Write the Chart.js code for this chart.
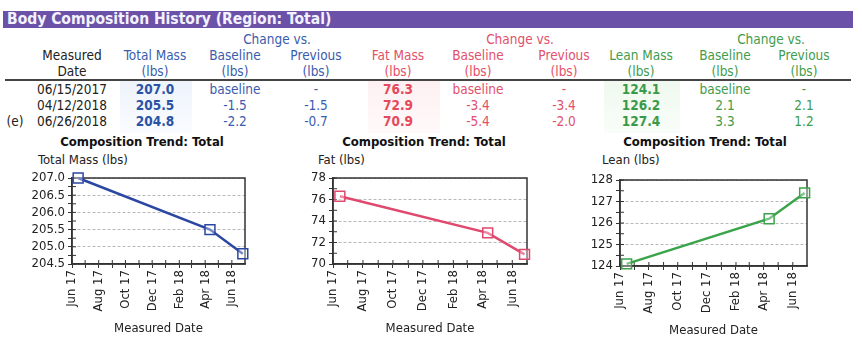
<!DOCTYPE html>
<html>
<head>
<meta charset="utf-8">
<script src="https://cdn.jsdelivr.net/npm/chart.js@4.4.1/dist/chart.umd.min.js"></script>
<style>
  body { margin: 0; background: #fff; width: 862px; height: 364px; position: relative; overflow: hidden;
         font-family: 'DejaVu Sans Condensed', 'DejaVu Sans', sans-serif; color: #222; }
  .bar { position: absolute; left: 3px; top: 11px; width: 850px; height: 17px; background: #6b52a8; }
  .bar span { position: absolute; left: 4px; top: -1px; color: #f4f2ff; font-weight: bold; font-size: 15.5px; line-height: 18px; }
  .rule { position: absolute; left: 5px; top: 79px; width: 846px; height: 2px; background: #444; }
  .cell { position: absolute; transform: translateX(-50%); white-space: nowrap; font-size: 13.5px; line-height: 16px; }
  .shade { position: absolute; top: 81px; height: 52px; }
  .ctitle { position: absolute; top: 133px; transform: translateX(-50%); white-space: nowrap;
            font-size: 13px; font-weight: bold; line-height: 18px; color: #111; }
  .ytitle { position: absolute; top: 151px; white-space: nowrap; font-size: 13px; line-height: 18px; color: #222; }
  canvas { position: absolute; }
</style>
</head>
<body>
<div class="shade" style="left:120px;width:72px;background:linear-gradient(#eef3fc,#fafcff)"></div>
<div class="shade" style="left:368px;width:72px;background:linear-gradient(#fdf0f2,#fff9fa)"></div>
<div class="shade" style="left:604px;width:76px;background:linear-gradient(#eff9ef,#f9fdf9)"></div>
<div class="bar"><span>Body Composition History (Region: Total)</span></div>
<div class="rule"></div>
<div id="table"></div>

<div class="ctitle" style="left:142px">Composition Trend: Total</div>
<div class="ytitle" style="left:38px">Total Mass (lbs)</div>
<div class="ctitle" style="left:424px">Composition Trend: Total</div>
<div class="ytitle" style="left:318px">Fat (lbs)</div>
<div class="ctitle" style="left:705px">Composition Trend: Total</div>
<div class="ytitle" style="left:602px">Lean (lbs)</div>

<canvas id="totalChart" width="237" height="180" style="left:20px;top:165px"></canvas>
<canvas id="fatChart" width="239" height="180" style="left:300px;top:165px"></canvas>
<canvas id="leanChart" width="234" height="180" style="left:585px;top:167px"></canvas>
<script>
const measuredDates = ['06/15/2017', '04/12/2018', '06/26/2018'];
const totalMass = [207.0, 205.5, 204.8];
const fatMass = [76.3, 72.9, 70.9];
const leanMass = [124.1, 126.2, 127.4];
const totalVsBaseline = ['baseline', '-1.5', '-2.2'];
const totalVsPrevious = ['-', '-1.5', '-0.7'];
const fatVsBaseline = ['baseline', '-3.4', '-5.4'];
const fatVsPrevious = ['-', '-3.4', '-2.0'];
const leanVsBaseline = ['baseline', '2.1', '3.3'];
const leanVsPrevious = ['-', '2.1', '1.2'];
const rowFlags = ['', '', '(e)'];
const tickLabels = ['Jun 17', '', 'Aug 17', '', 'Oct 17', '', 'Dec 17', '', 'Feb 18', '', 'Apr 18', '', 'Jun 18'];

const BLUE = '#3a5cae', RED = '#e2506a', GREEN = '#3f9c4c';
const FONT = "'DejaVu Sans Condensed', 'DejaVu Sans', sans-serif";

// table
const table = document.getElementById('table');
function cell(text, x, y, color, bold) {
  const d = document.createElement('div');
  d.className = 'cell';
  d.textContent = text;
  d.style.left = x + 'px';
  d.style.top = (y - 8) + 'px';
  d.style.color = color;
  if (bold) d.style.fontWeight = 'bold';
  table.appendChild(d);
}

const cols = { date: 72, total: 155, tBase: 235, tPrev: 316, fat: 398, fBase: 478, fPrev: 564, lean: 641, lBase: 725, lPrev: 804 };

cell('Change vs.', 277, 39, BLUE);
cell('Change vs.', 520, 39, RED);
cell('Change vs.', 771, 39, GREEN);
[['Measured', 'Date', cols.date, '#222'], ['Total Mass', '(lbs)', cols.total, BLUE],
 ['Baseline', '(lbs)', cols.tBase, BLUE], ['Previous', '(lbs)', cols.tPrev, BLUE],
 ['Fat Mass', '(lbs)', cols.fat, RED], ['Baseline', '(lbs)', cols.fBase, RED], ['Previous', '(lbs)', cols.fPrev, RED],
 ['Lean Mass', '(lbs)', cols.lean, GREEN], ['Baseline', '(lbs)', cols.lBase, GREEN], ['Previous', '(lbs)', cols.lPrev, GREEN]]
  .forEach(([a, b, x, c]) => { cell(a, x, 55, c); cell(b, x, 71, c); });

measuredDates.forEach((d, i) => {
  const y = 89 + i * 16;
  if (rowFlags[i]) cell(rowFlags[i], 15, y, '#222');
  cell(d, cols.date, y, '#222');
  cell(totalMass[i].toFixed(1), cols.total, y, '#2a53a6', true);
  cell(totalVsBaseline[i], cols.tBase, y, BLUE);
  cell(totalVsPrevious[i], cols.tPrev, y, BLUE);
  cell(fatMass[i].toFixed(1), cols.fat, y, '#e44a5c', true);
  cell(fatVsBaseline[i], cols.fBase, y, RED);
  cell(fatVsPrevious[i], cols.fPrev, y, RED);
  cell(leanMass[i].toFixed(1), cols.lean, y, '#3a9a48', true);
  cell(leanVsBaseline[i], cols.lBase, y, GREEN);
  cell(leanVsPrevious[i], cols.lPrev, y, GREEN);
});

// x axis in days since Jun 1 2017
const origin = Date.UTC(2017, 5, 1);
const toDays = s => (Date.UTC(+s.slice(6, 10), +s.slice(0, 2) - 1, +s.slice(3, 5)) - origin) / 864e5;
const dayOffsets = measuredDates.map(toDays);
const axisEnd = (Date.UTC(2018, 6, 1) - origin) / 864e5;
const tickDays = tickLabels.map((_, i) => (Date.UTC(2017, 5 + i, 1) - origin) / 864e5);

const frame = {
  id: 'frame',
  beforeDatasetsDraw(chart) {
    const { ctx, chartArea: a, scales } = chart;
    ctx.save();
    ctx.strokeStyle = '#333';
    ctx.lineWidth = 1;
    ctx.beginPath();
    scales.y.ticks.forEach(t => {
      const y = scales.y.getPixelForValue(t.value);
      ctx.moveTo(a.left, y); ctx.lineTo(a.left + 4, y);
    });
    scales.x.ticks.forEach(t => {
      const x = scales.x.getPixelForValue(t.value);
      ctx.moveTo(x, a.bottom); ctx.lineTo(x, a.bottom - 4);
    });
    ctx.stroke();
    ctx.lineWidth = 1.5;
    ctx.strokeRect(a.left, a.top, a.right - a.left, a.bottom - a.top);
    ctx.restore();
  }
};

function trendChart(id, values, color, yMin, yMax, minor, major, digits, axisWidth) {
  const isMajor = v => Math.abs(v / major - Math.round(v / major)) < 1e-6;
  return new Chart(document.getElementById(id), {
    type: 'line',
    data: {
      datasets: [{
        data: dayOffsets.map((d, i) => ({ x: d, y: values[i] })),
        borderColor: color,
        borderWidth: 2.5,
        tension: 0,
        pointStyle: 'rect',
        pointRadius: 7,
        pointBorderWidth: 1.5,
        pointBorderColor: color,
        pointBackgroundColor: 'rgba(255,255,255,0.35)',
        clip: false
      }]
    },
    options: {
      responsive: false,
      animation: false,
      layout: { padding: { left: 0, right: 12, top: 13, bottom: 0 } },
      plugins: { legend: { display: false }, tooltip: { enabled: false } },
      scales: {
        x: {
          type: 'linear', min: 0, max: axisEnd,
          afterBuildTicks: s => { s.ticks = tickDays.map(v => ({ value: v })); },
          afterFit: s => { s.height = 81; },
          ticks: { autoSkip: false, minRotation: 90, maxRotation: 90, padding: 2, color: '#222',
                   font: { family: FONT, size: 13 }, callback: (v, i) => tickLabels[i] },
          grid: { drawOnChartArea: false, tickLength: 4, tickColor: '#333' },
          border: { color: '#333', width: 1.5 },
          title: { display: true, text: 'Measured Date', color: '#222',
                   font: { family: FONT, size: 13 }, padding: { top: 0, bottom: 9 } }
        },
        y: {
          min: yMin, max: yMax,
          afterFit: s => { s.width = axisWidth; },
          ticks: { stepSize: minor, autoSkip: false, padding: 3, color: '#222',
                   font: { family: FONT, size: 13 },
                   callback: v => isMajor(v) ? v.toFixed(digits) : '' },
          grid: { color: c => isMajor(c.tick.value) ? '#b8b8b8' : 'rgba(0,0,0,0)',
                  tickColor: '#333', tickLength: 4, lineWidth: 1 },
          border: { color: '#333', width: 1.5, dash: [3, 2] }
        }
      }
    },
    plugins: [frame]
  });
}

trendChart('totalChart', totalMass, '#2b47a2', 204.5, 207.0, 0.25, 0.5, 1, 52);
trendChart('fatChart', fatMass, '#e0486e', 70, 78, 1, 2, 0, 33);
trendChart('leanChart', leanMass, '#3ba34a', 124, 128, 0.5, 1, 0, 35);
</script>
</body>
</html>
